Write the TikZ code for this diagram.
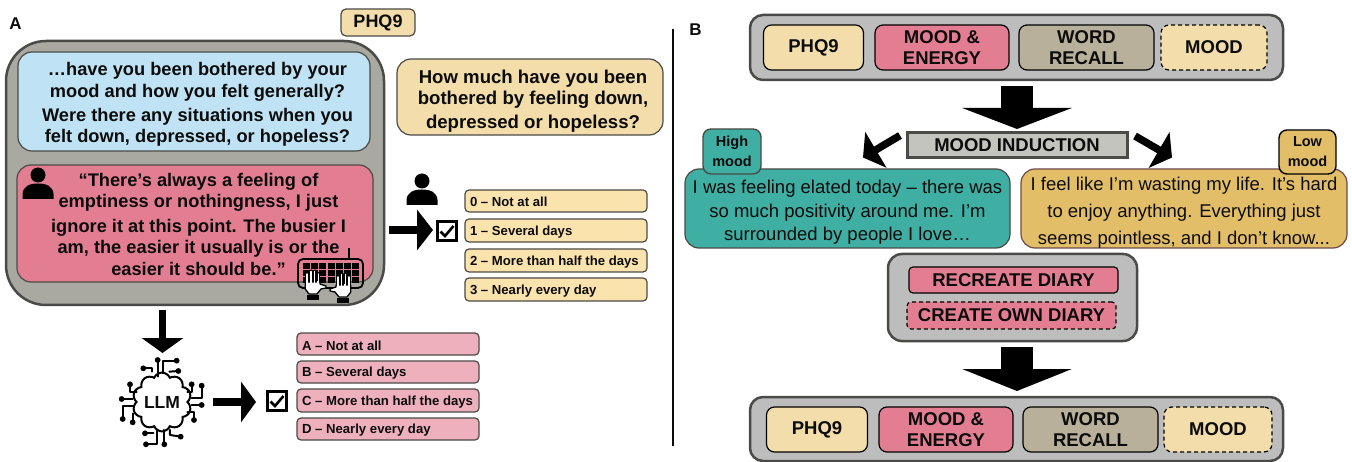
\documentclass[tikz,border=0pt]{standalone}
\usepackage{fontspec}
\setmainfont{Liberation Sans}
\usetikzlibrary{arrows.meta,shapes.symbols}
\definecolor{inkc}{HTML}{0C0C0C}
\definecolor{edgec}{HTML}{4A4A46}
\definecolor{grayA}{HTML}{A9A9A2}
\definecolor{grayB}{HTML}{BDBDBD}
\definecolor{blueq}{HTML}{BFE3F5}
\definecolor{pinkq}{HTML}{E37E92}
\definecolor{sandq}{HTML}{F2DDAB}
\definecolor{optY}{HTML}{FBE3AE}
\definecolor{optP}{HTML}{EDB0BC}
\definecolor{tanq}{HTML}{B8B09A}
\definecolor{tealq}{HTML}{3FAFA3}
\definecolor{goldq}{HTML}{E3BE68}
\definecolor{indq}{HTML}{C4C4BF}
\tikzset{
  base/.style={inner sep=0pt,outer sep=0pt,text=inkc,align=center},
  bigA/.style={base,draw=edgec,line width=2.5pt,fill=grayA,rounded corners=40pt},
  bigB/.style={base,draw=edgec,line width=2.5pt,fill=grayB,rounded corners=13pt},
  talk/.style={base,draw=edgec,line width=1.2pt,rounded corners=14pt},
  opt/.style={base,draw=edgec,line width=1.2pt,rounded corners=4pt,align=left},
  chip/.style={base,draw=black,line width=1.2pt,rounded corners=8pt,font=\fontsize{18.5}{21}\selectfont\bfseries},
  dchip/.style={chip,dash pattern=on 4pt off 3pt},
  tline/.style={base,font=\fontsize{18.25}{22}\selectfont\bfseries},
  qline/.style={base,font=\fontsize{18.6}{22}\selectfont\bfseries},
  diary/.style={base,font=\fontsize{18.5}{23.5}\selectfont},
  opttext/.style={base,anchor=west,font=\fontsize{13.15}{15}\selectfont\bfseries},
  blockarrow/.style={line width=#1,draw=black},
  tickbox/.style={draw=black,line width=3pt,fill=white,inner sep=0pt,minimum width=19pt,minimum height=19pt},
  trace/.style={line width=2pt,line cap=round,line join=round},
}
\newcommand{\bx}[7]{%
  \pgfmathsetmacro{\bxw}{#4-#2}\pgfmathsetmacro{\bxh}{#5-#3}%
  \pgfmathsetmacro{\bxx}{(#4+#2)/2}\pgfmathsetmacro{\bxy}{(#5+#3)/2}%
  \node[#6,minimum width=\bxw pt,minimum height=\bxh pt] (#1) at (\bxx,\bxy) {#7};}
\newcommand{\personicon}[2]{%
  \fill[black] (#1,#2) circle[radius=7.5pt];
  \fill[black,shift={(#1,#2)}] (-15.5,24) -- (-15.5,19) .. controls (-15,11) and (-8,8.5) .. (0,8.5)
     .. controls (8,8.5) and (15,11) .. (15.5,19) -- (15.5,24) -- cycle;}
\newcommand{\tick}[1]{%
  \draw[black,line width=2.6pt] ([shift={(-6.5,0.5)}]#1.center) -- ([shift={(-2,5)}]#1.center) -- ([shift={(6.5,-5)}]#1.center);}
\newcommand{\handicon}[3]{% x, y (palm centre), mirror
  \begin{scope}[shift={(#1,#2)},xscale=#3]
    \foreach \fx/\ft in {-6/-9,-2.2/-11.5,1.6/-11.5,5.2/-9}{
      \draw[black,line width=4pt,line cap=round] (\fx,4) -- (\fx,\ft);
      \draw[white,line width=1.4pt,line cap=round] (\fx,4) -- (\fx,\ft);}
    \draw[black,fill=white,line width=1.3pt,line join=round] (-7.8,-1) -- (-7.8,6) -- (-4,11) -- (4,11) -- (8,6) -- (13,5) -- (13,3) -- (7,1) -- (7,-1) -- cycle;
    \draw[white,line width=1.6pt] (-6,-2) -- (-6,1) (-2.2,-2) -- (-2.2,1) (1.6,-2) -- (1.6,1) (5.2,-2) -- (5.2,1);
    \fill[black] (-6,12.5) rectangle (6,17);
  \end{scope}}
\begin{document}
\begin{tikzpicture}[x=1pt,y=-1pt]
\useasboundingbox (0,0) rectangle (1352,462);
\fill[white] (0,0) rectangle (1352,462);

% ---- panel labels
\node[base,font=\fontsize{17}{18}\selectfont\bfseries] (labA) at (15.5,24) {A};
\node[base,font=\fontsize{17}{18}\selectfont\bfseries] (labB) at (695.5,30) {B};
\draw[draw=inkc,line width=2pt] (673,29) -- (673,446);

% ---- panel A
\bx{tagA}{341}{9}{415}{36}{base,draw=edgec,line width=1.2pt,fill=sandq,rounded corners=5pt,font=\fontsize{18}{19}\selectfont\bfseries}{PHQ9}
\bx{bigA}{6}{41}{384}{305}{bigA}{}
\bx{askA}{18}{52}{370}{151}{talk,fill=blueq}{}
\node[tline] (askAt) at (197.5,104.5) {…have you been bothered by your\\ mood and how you felt generally?\\[2pt] Were there any situations when you\\[-1pt] felt down, depressed, or hopeless?};
\bx{ansA}{17}{165}{373}{282}{talk,fill=pinkq}{}
\node[tline] (ansAt) at (198.5,224.5) {“There's always a feeling of\\[-1pt] emptiness or nothingness, I just\\[3pt] ignore it at this point. The busier I\\[-1pt] am, the easier it usually is or the\\ easier it should be.”};
\personicon{38}{175}
\bx{qA}{397}{59}{663}{135}{talk,fill=sandq}{}
\node[qline] (qAt) at (533,101) {How much have you been\\[-1pt] bothered by feeling down,\\[2pt] depressed or hopeless?};
\personicon{422}{181}

% keyboard icon
\draw[black,line width=1.6pt] (349,248) -- (349,258);
\draw[black,line width=1.8pt,rounded corners=5pt] (298,259) rectangle (363,288);
\foreach \kx in {0,...,6}{\foreach \ky in {0,1,2}{
  \fill[black] (303+\kx*8.2,263+\ky*7) rectangle ++(7,6);}}
\handicon{313}{283}{1}
\handicon{343}{286}{-1}

% person options
\foreach \nm/\ya/\yb/\tx in {o0/190/212/{0 – Not at all},o1/219/242/{1 – Several days},o2/249/272/{2 – More than half the days},o3/278/301/{3 – Nearly every day}}{
  \bx{\nm}{465}{\ya}{647}{\yb}{opt,fill=optY}{}
  \node[opttext] (\nm t) at ([xshift=5pt,yshift=-1.2pt]\nm.west) {\tx};
}
\coordinate (a2s) at (389,230);
\coordinate (a2e) at (433,230);
\draw[blockarrow=8pt,-{Triangle[width=40pt,length=16pt]}] (a2s) -- (a2e);
\node[tickbox] (cb1) at (447,231) {};
\tick{cb1}

% llm
\coordinate (a1s) at (162.5,310);
\coordinate (a1e) at (162.5,353);
\draw[blockarrow=7.5pt,-{Triangle[width=41pt,length=15pt]}] (a1s) -- (a1e);
\node[base,cloud,cloud puffs=10,cloud puff arc=135,draw=black,line width=2pt,fill=white,minimum width=54pt,minimum height=51pt,font=\fontsize{17.5}{18}\selectfont\bfseries] (llm) at (162,402) {LLM};
\begin{scope}[shift={(110,345)},x=0.3333pt,y=-0.3333pt]
  \draw[trace] (143,95) -- (143,45);
  \draw[trace] (160,85) -- (160,47) -- (200,47);
  \draw[trace] (100,70) -- (125,70) -- (125,80);
  \draw[trace] (178,80) -- (205,78);
  \draw[trace] (245,118) -- (245,140) -- (232,140);
  \draw[trace] (275,122) -- (275,160) -- (245,160);
  \draw[trace] (245,180) -- (275,180);
  \draw[trace] (232,200) -- (252,200) -- (252,225);
  \draw[trace] (60,118) -- (60,140) -- (80,140);
  \draw[trace] (35,162) -- (68,162);
  \draw[trace] (70,182) -- (38,182) -- (38,222);
  \draw[trace] (68,232) -- (68,205);
  \draw[trace] (105,265) -- (130,265);
  \draw[trace] (108,298) -- (140,298) -- (140,258);
  \draw[trace] (163,298) -- (163,255);
  \draw[trace] (180,255) -- (180,270) -- (212,275);
  \foreach \dx/\dy in {143/45,200/47,100/70,205/78,245/118,275/122,275/180,252/225,60/118,35/162,38/222,68/232,105/265,108/298,163/298,212/275}
    \fill[black] (\dx,\dy) circle[radius=2.9pt];
\end{scope}

\coordinate (a3s) at (213,402);
\coordinate (a3e) at (256,402);
\draw[blockarrow=8pt,-{Triangle[width=40pt,length=15pt]}] (a3s) -- (a3e);
\node[tickbox] (cb2) at (277,401) {};
\tick{cb2}

\foreach \nm/\ya/\yb/\tx in {p0/333/355/{A – Not at all},p1/361/383/{B – Several days},p2/389/412/{C – More than half the days},p3/418/440/{D – Nearly every day}}{
  \bx{\nm}{297}{\ya}{479}{\yb}{opt,fill=optP}{}
  \node[opttext] (\nm t) at ([xshift=5pt,yshift=-1.5pt]\nm.west) {\tx};
}

% ---- panel B top
\bx{topB}{750}{15}{1283}{80}{bigB}{}
\bx{t1}{763.5}{25}{863.5}{70}{chip,fill=sandq}{PHQ9}
\bx{t2}{875}{25}{1009}{70}{chip,fill=pinkq}{MOOD \&\\ENERGY}
\bx{t3}{1019}{25}{1154}{70}{chip,fill=tanq}{WORD\\RECALL}
\bx{t4}{1161}{25}{1267}{70}{dchip,fill=sandq}{MOOD}

\coordinate (a4s) at (1017,86);
\coordinate (a4e) at (1017,129);
\draw[blockarrow=32pt,-{Triangle[width=109pt,length=21pt]}] (a4s) -- (a4e);

\bx{ind}{907}{133}{1127}{158}{base,draw=edgec,line width=3pt,fill=indq,font=\fontsize{18.5}{21}\selectfont\bfseries}{MOOD INDUCTION}
\coordinate (a5s) at (900,135.5);
\coordinate (a5e) at (863,157.5);
\draw[blockarrow=7.5pt,-{Triangle[width=41pt,length=15pt]}] (a5s) -- (a5e);
\coordinate (a6s) at (1135,136);
\coordinate (a6e) at (1172,157.5);
\draw[blockarrow=7.5pt,-{Triangle[width=41pt,length=15pt]}] (a6s) -- (a6e);

\bx{hi}{685}{169}{1010}{248}{talk,draw=edgec,fill=tealq}{}
\node[diary] (hit) at (847.5,212.5) {I was feeling elated today – there was\\ so much positivity around me. I’m\\ surrounded by people I love…};
\bx{lo}{1021}{169}{1347}{248}{talk,draw={rgb,255:red,110;green,74;blue,74},fill=goldq}{}
\node[diary,font=\fontsize{18.5}{27}\selectfont] (lot) at (1184,213) {I feel like I’m wasting my life. It’s hard\\ to enjoy anything. Everything just\\ seems pointless, and I don’t know...};
\bx{hitag}{703}{129}{761}{174}{base,draw=edgec,line width=1.4pt,fill=tealq,rounded corners=8pt,font=\fontsize{14.5}{20}\selectfont\bfseries}{High\\mood}
\bx{lotag}{1279}{130}{1336}{174}{base,draw=black,line width=1.4pt,fill=goldq,rounded corners=8pt,font=\fontsize{14.5}{20}\selectfont\bfseries}{Low\\mood}

% ---- diary
\bx{dia}{888}{254}{1137}{341}{bigB,rounded corners=14pt}{}
\bx{d1}{909}{267}{1118}{293}{chip,fill=pinkq,rounded corners=4pt}{RECREATE DIARY}
\bx{d2}{907}{302}{1116}{329}{dchip,fill=pinkq,rounded corners=4pt}{CREATE OWN DIARY}

\coordinate (a7s) at (1017,347);
\coordinate (a7e) at (1017,391);
\draw[blockarrow=32pt,-{Triangle[width=109pt,length=22pt]}] (a7s) -- (a7e);

% ---- panel B bottom
\bx{botB}{750}{397}{1283}{461}{bigB}{}
\bx{b1}{766.5}{407}{867.5}{452}{chip,fill=sandq}{PHQ9}
\bx{b2}{879}{407}{1013}{452}{chip,fill=pinkq}{MOOD \&\\ENERGY}
\bx{b3}{1023}{407}{1158}{452}{chip,fill=tanq}{WORD\\RECALL}
\bx{b4}{1164}{407}{1272}{452}{dchip,fill=sandq}{MOOD}
\end{tikzpicture}
\end{document}
